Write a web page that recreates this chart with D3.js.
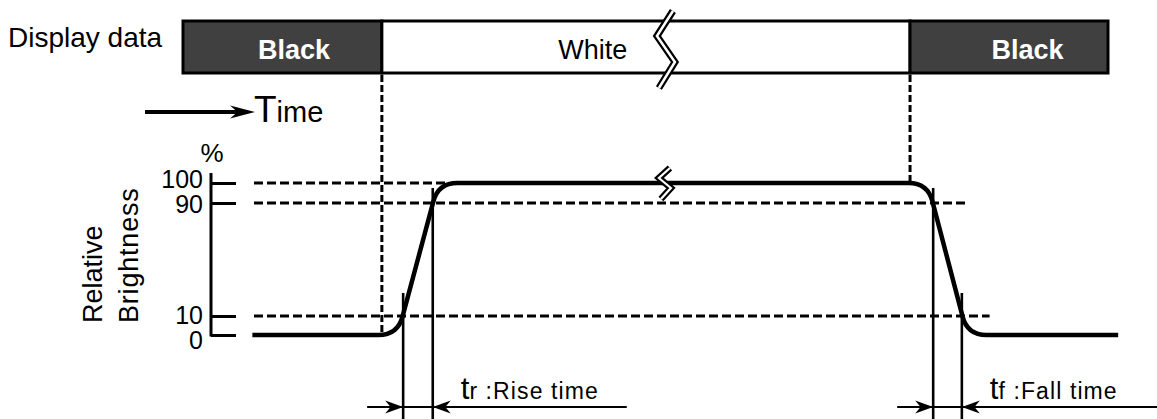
<!DOCTYPE html>
<html>
<head>
<meta charset="utf-8">
<script src="https://cdn.jsdelivr.net/npm/d3@7"></script>
<style>
body { margin: 0; background: #fff; }
svg { display: block; font-family: Arial, "Liberation Sans", sans-serif; }
</style>
</head>
<body>
<svg width="1157" height="419"></svg>
<script>
// values (time in % of the display-data bar, level in %)
var displayLabels = ["Black", "White", "Black"];
var displayStart = [0, 21.5, 78.6];
var displayEnd = [21.5, 78.6, 100];
var labelTime = [12.0, 44.3, 91.3];
var levelTicks = [0, 10, 90, 100];
var curveTime = [7.5, 23.2, 27.6, 80.5, 84.8, 101.1];
var curveLevel = [0, 0, 100, 100, 0, 0];
var guideLevel = [100, 90, 10];
var guideEnd = [28.5, 84.6, 87.2];
var markTime = [23.8, 27.0, 81.1, 84.2];   // tr start, tr end, tf start, tf end
var markLevel = [10, 90, 90, 10];
var markNames = ["r", "f"];
var markText = [" :Rise time", " :Fall time"];
var breakTime = 52.1;

var svg = d3.select("svg");

var x = d3.scaleLinear().domain([0, 100]).range([183, 1108]);
// diagram is not to scale: 0-10 and 90-100 are stretched
var y = d3.scaleLinear().domain([0, 10, 90, 100]).range([335, 316, 203, 183]);

var barTop = 21, barH = 52;

// ---- display data bar
var bars = svg.append("g");
displayLabels.forEach(function(lab, i) {
  var x0 = x(displayStart[i]), x1 = x(displayEnd[i]);
  var dark = lab == "Black";
  bars.append("rect")
    .attr("x", x0).attr("y", barTop)
    .attr("width", x1 - x0).attr("height", barH)
    .attr("fill", dark ? "#404040" : "#fff")
    .attr("stroke", "#000").attr("stroke-width", 3);
  bars.append("text")
    .attr("x", x(labelTime[i])).attr("y", barTop + 38)
    .attr("text-anchor", "middle")
    .attr("font-size", dark ? 27 : 27)
    .attr("font-weight", dark ? "bold" : "normal")
    .attr("fill", dark ? "#fff" : "#000")
    .text(lab);
});
svg.append("text").attr("x", 8).attr("y", 47).attr("font-size", 28).text("Display data");

function breakMark(pts, wide, thin) {
  var line = d3.line();
  svg.append("path").attr("d", line(pts)).attr("fill", "none")
    .attr("stroke", "#000").attr("stroke-width", wide).attr("stroke-linejoin", "miter");
  svg.append("path").attr("d", line(pts)).attr("fill", "none")
    .attr("stroke", "#fff").attr("stroke-width", thin).attr("stroke-linejoin", "miter");
}
var bx = x(breakTime);
breakMark([[bx + 8, 11], [bx - 8, 36], [bx + 10, 62], [bx - 6, 88]], 7, 2.5);

// ---- time arrow
function arrowHead(tx, ty, dir, len, half) {
  var p = d3.path();
  p.moveTo(tx, ty);
  p.lineTo(tx - dir * len, ty - half);
  p.lineTo(tx - dir * len * 0.7, ty);
  p.lineTo(tx - dir * len, ty + half);
  p.closePath();
  svg.append("path").attr("d", p.toString()).attr("fill", "#000");
}
svg.append("line").attr("x1", 145).attr("x2", 240).attr("y1", 112).attr("y2", 112)
  .attr("stroke", "#000").attr("stroke-width", 4);
arrowHead(255, 112, 1, 25, 6.5);
var tl = svg.append("text").attr("x", 254).attr("y", 122);
tl.append("tspan").attr("font-size", 37).text("T");
tl.append("tspan").attr("font-size", 29).text("ime");

// ---- dashed guides
var dash = svg.append("g").attr("stroke", "#000").attr("stroke-width", 3)
  .attr("stroke-dasharray", "9,4");
guideLevel.forEach(function(v, i) {
  dash.append("line").attr("x1", 254).attr("x2", x(guideEnd[i]))
    .attr("y1", y(v)).attr("y2", y(v));
});
dash.append("line").attr("x1", x(displayEnd[0])).attr("x2", x(displayEnd[0]))
  .attr("y1", barTop + barH + 2).attr("y2", y(0)).attr("stroke-dasharray", "7,3");
dash.append("line").attr("x1", x(displayEnd[1])).attr("x2", x(displayEnd[1]))
  .attr("y1", barTop + barH + 2).attr("y2", y(100)).attr("stroke-dasharray", "7,3");

// ---- brightness axis
var axis = d3.axisRight(y).tickValues(levelTicks).tickSize(25).tickSizeOuter(0).tickFormat("");
var ag = svg.append("g").attr("transform", "translate(211,0)").call(axis);
ag.select(".domain").remove();
ag.selectAll(".tick line").attr("stroke", "#000").attr("stroke-width", 3);
svg.append("line").attr("x1", 211).attr("x2", 211).attr("y1", y(100) - 10).attr("y2", y(0) + 1.5)
  .attr("stroke", "#000").attr("stroke-width", 3);
var nudge = { 100: -4, 90: 1, 10: -1, 0: 5 };
levelTicks.forEach(function(v) {
  svg.append("text").attr("x", 203).attr("y", y(v) + nudge[v]).attr("dy", "0.36em")
    .attr("text-anchor", "end").attr("font-size", 25).text(v);
});
svg.append("text").attr("x", 212).attr("y", 162).attr("text-anchor", "middle")
  .attr("font-size", 26).text("%");
[["Relative", 102, 0], ["Brightness", 138, 0.8]].forEach(function(d) {
  svg.append("text").attr("transform", "translate(" + d[1] + ",323) rotate(-90)")
    .attr("font-size", 27).attr("letter-spacing", d[2]).text(d[0]);
});

// ---- brightness curve with rounded corners
function roundedPath(pts, r) {
  var p = d3.path();
  p.moveTo(pts[0][0], pts[0][1]);
  for (var i = 1; i < pts.length - 1; i++) {
    var a = pts[i - 1], v = pts[i], b = pts[i + 1];
    var da = Math.hypot(a[0] - v[0], a[1] - v[1]), db = Math.hypot(b[0] - v[0], b[1] - v[1]);
    p.lineTo(v[0] + (a[0] - v[0]) * r / da, v[1] + (a[1] - v[1]) * r / da);
    p.quadraticCurveTo(v[0], v[1], v[0] + (b[0] - v[0]) * r / db, v[1] + (b[1] - v[1]) * r / db);
  }
  var last = pts[pts.length - 1];
  p.lineTo(last[0], last[1]);
  return p.toString();
}
var pts = curveTime.map(function(t, i) { return [x(t), y(curveLevel[i])]; });
svg.append("path").attr("d", roundedPath(pts, 19)).attr("fill", "none")
  .attr("stroke", "#000").attr("stroke-width", 4.5);
breakMark([[bx + 5, 168], [bx - 6, 178], [bx + 6, 188], [bx - 4, 199]], 6.5, 2.2);

// ---- rise / fall time markers
var arrowY = 407;
markTime.forEach(function(t, i) {
  var top = y(markLevel[i]) - (markLevel[i] > 50 ? 15 : 23);
  svg.append("line").attr("x1", x(t)).attr("x2", x(t)).attr("y1", top).attr("y2", 419)
    .attr("stroke", "#000").attr("stroke-width", 2.6);
});
[0, 2].forEach(function(i, k) {
  var xa = x(markTime[i]), xb = x(markTime[i + 1]);
  var far = k == 0 ? xb + 194 : 1157;
  svg.append("line").attr("x1", xa - 36).attr("x2", far).attr("y1", arrowY).attr("y2", arrowY)
    .attr("stroke", "#000").attr("stroke-width", 2.2);
  arrowHead(xa, arrowY, 1, 18, 6.5);
  arrowHead(xb, arrowY, -1, 18, 6.5);
  var lt = svg.append("text").attr("x", xb + 28).attr("y", 399);
  lt.append("tspan").attr("font-size", 31).text("t");
  lt.append("tspan").attr("font-size", 23).attr("letter-spacing", 1.1).text(markNames[k] + markText[k]);
});
</script>
</body>
</html>
